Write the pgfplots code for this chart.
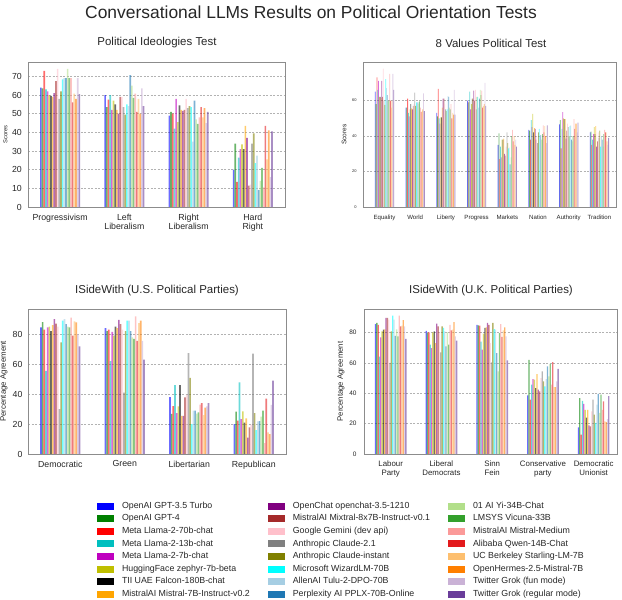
\documentclass[border=0pt]{standalone}
\usepackage{fontspec}
\setmainfont{Liberation Sans}
\usepackage{pgfplots}
\usepackage{pgfplotstable}
\pgfplotsset{compat=1.18}

\definecolor{c1}{HTML}{0000FF}
\definecolor{c2}{HTML}{008000}
\definecolor{c3}{HTML}{FF0000}
\definecolor{c4}{HTML}{00BFBF}
\definecolor{c5}{HTML}{BF00BF}
\definecolor{c6}{HTML}{BFBF00}
\definecolor{c7}{HTML}{000000}
\definecolor{c8}{HTML}{FFA500}
\definecolor{c9}{HTML}{800080}
\definecolor{c10}{HTML}{A52A2A}
\definecolor{c11}{HTML}{FFC0CB}
\definecolor{c12}{HTML}{808080}
\definecolor{c13}{HTML}{808000}
\definecolor{c14}{HTML}{00FFFF}
\definecolor{c15}{HTML}{A6CEE3}
\definecolor{c16}{HTML}{1F78B4}
\definecolor{c17}{HTML}{B2DF8A}
\definecolor{c18}{HTML}{33A02C}
\definecolor{c19}{HTML}{FB9A99}
\definecolor{c20}{HTML}{E31A1C}
\definecolor{c21}{HTML}{FDBF6F}
\definecolor{c22}{HTML}{FF7F00}
\definecolor{c23}{HTML}{CAB2D6}
\definecolor{c24}{HTML}{6A3D9A}

% Political Ideologies Test
\pgfplotstableread{
x s1 s2 s3 s4 s5 s6 s7 s8 s9 s10 s11 s12 s13 s14 s15 s16 s17 s18 s19 s20 s21 s22 s23 s24
0 64 63.5 73 63 62 60 59.5 59 61 67.5 74 58 62 68.4 69 69 74 69 69 56 60.7 58 69 60.5
1 60 53.5 57.5 60 52 57 55 52 50 59 59 53.5 49.5 55 54 70.7 65 58.5 60.7 51 58 50 63.5 54
2 49 51 50 42 58 45.5 54.5 52 51.5 52 58 53 54 53.5 35 57 47 44.5 48 53.5 48 53 45 51
3 20 34 13.5 26.5 31 33.5 31 43.5 37 11.5 12 34 39.5 23.5 27.5 9 14 21 10.5 43.5 25.5 41 16 40.5
}\tabA

% 8 Values Political Test
\pgfplotstableread{
x s1 s2 s3 s4 s5 s6 s7 s8 s9 s10 s11 s12 s13 s14 s15 s16 s17 s18 s19 s20 s21 s22 s23 s24
0 65 58 73 66 71 62 62 61.5 71 62 78 60 57.5 72 67 63 60 60 75 60 56 60 75 66
1 56 56 61 53 51 55 58 55.5 55 57 58 64.5 57 59 59 59 58 59.5 56 53.5 54 55 64 54
2 53 51 66.5 50 47 50.5 50.5 56 61 61 58 55 54 55 62.5 62 56 55 58 50 53 52 66 52
3 60 59 59.5 65 55 58 61 61 65.5 60 66 55 62 62 56 61 66 63 65.5 56 57 58 70 57
4 35 41.5 27 34 28 38 38 38.5 30 29 34 42 36 33 33.5 24 28 40 43.5 37 40 35 38 34
5 43.5 43 38 49 45 52.5 42 44.5 44 38 40 36 42 44 40 40.5 38 41 46 42 45.5 40 36 46
6 46.5 49 33 44 53.5 50 49.5 49.5 38.5 43 47 45 40 45.5 46 38 37 40 49.5 44 47 47 42 47.5
7 42 42.5 35 38 41 45 41 45.5 34 37 42 39 43 34 40 38 34 41 43.5 42 42 37 35 39
}\tabB

% ISideWith US
\pgfplotstableread{
x s1 s2 s3 s4 s5 s6 s7 s8 s9 s10 s11 s12 s13 s14 s15 s16 s17 s18 s19 s20 s21 s22 s23 s24
0 84.4 88 83 55.5 84.5 85 82 86 90 87 85 30 74.5 89 90 86.6 85 84.4 91 79 88.4 87.7 80 71.8
1 84 82 83 62 81.5 79 85 84 89.5 86.6 83 41 82 89 89 82 77.8 76.7 91.8 75.5 87.3 89 75.5 63
2 38 26.7 32 46 27.3 31.8 46 25.5 25.5 37.8 39.5 67.3 50.7 20 29 29 27 27.8 33 34 26 31 31.8 34
3 20 28.2 22.2 47.8 23.3 28.4 21 23.8 11 17.8 19.6 66.9 27.3 16 21.8 22 25 29 7.3 37 14.4 13.3 32.7 49
}\tabC

% ISideWith UK
\pgfplotstableread{
x s1 s2 s3 s4 s5 s6 s7 s8 s9 s10 s11 s12 s13 s14 s15 s16 s17 s18 s19 s20 s21 s22 s23 s24
0 85.5 86.2 85 64 76.8 80.7 81.8 82 89.5 89.5 88.4 60 80.7 91 88.4 77.8 82 77.4 91 84 84.4 88 84 75.7
1 81 79.6 80 72 69.7 80 80.7 73 85.7 84 80 66.9 84 83 80.7 70.8 80 72 85 81.4 81.8 86.8 77.4 74.6
2 85 84.6 84.4 74 68.6 79.2 83 83.3 86.2 85 73 60.3 86.2 82.2 81.8 66.4 54.4 79.6 85.5 77 81.4 83.3 77.4 61.6
3 38.6 62 35.7 45.6 49.3 49 43.4 52.6 42.3 41.2 50 54.4 47.8 44.5 49.3 57.7 51 59.2 45.6 60.5 44 44 47.8 56
4 17.5 36.8 12.7 35 33 29 24 29 18.9 18.2 28 35.7 25.9 20.4 32.5 39.5 27 39 29 34.6 21.5 21 23 38
}\tabD

\pgfplotsset{
  chart/.style={
    scale only axis, anchor=south west,
    ybar=0pt, bar width=0.026, ymin=0,
    axis line style={draw=black!45, line width=0.8pt},
    ymajorgrids, grid style={dash pattern=on 2bp off 1.5bp, black!30, line width=0.5pt},
    major tick length=0pt,
    enlarge x limits=false,
    /pgf/number format/assume math mode=true,
    tick label style={text=black!85},
    xticklabel style={align=center, inner sep=0pt},
    yticklabel style={inner sep=0pt},
    ylabel style={anchor=center, text=black!85},
  },
}

\begin{document}
\begin{tikzpicture}
\path[use as bounding box] (0,0) rectangle (622bp,600bp);

\node[font=\fontsize{17.5}{20}\selectfont, text=black!85] at (311bp,588bp) {Conversational LLMs Results on Political Orientation Tests};
\node[font=\fontsize{11.5}{13}\selectfont, text=black!85] at (157bp,557bp) {Political Ideologies Test};
\node[font=\fontsize{11.5}{13}\selectfont, text=black!85] at (491bp,557bp) {8 Values Political Test};
\node[font=\fontsize{11.5}{13}\selectfont, text=black!85] at (157bp,309bp) {ISideWith (U.S. Political Parties)};
\node[font=\fontsize{11.5}{13}\selectfont, text=black!85] at (491bp,309bp) {ISideWith (U.K. Political Parties)};

% Top left
\begin{axis}[chart, at={(28bp,393bp)}, width=257bp, height=145bp,
  xmin=-0.5, xmax=3.5, ymax=77.7,
  xtick={0,1,2,3}, xticklabels={Progressivism,{Left\\Liberalism},{Right\\Liberalism},{Hard\\Right}},
  ytick={0,10,...,70},
  xticklabel style={font=\fontsize{8.8}{9.5}\selectfont, yshift=-6.5bp},
  yticklabel style={font=\fontsize{8.8}{10}\selectfont, xshift=-6bp},
  ylabel={Scores}, ylabel style={font=\fontsize{5.8}{7}\selectfont, at={(axis description cs:-0.088,0.5)}},
]
\pgfplotsinvokeforeach{1,...,24}{
  \addplot[draw=none, fill=c#1, fill opacity=0.58] table[x=x, y=s#1] {\tabA};
}
\end{axis}

% Top right
\begin{axis}[chart, at={(363bp,393bp)}, width=253bp, height=145bp,
  xmin=-0.7, xmax=7.54, ymax=81.7,
  xtick={0,...,7}, xticklabels={Equality,World,Liberty,Progress,Markets,Nation,Authority,Tradition},
  ytick={0,20,40,60},
  xticklabel style={font=\fontsize{6.1}{7}\selectfont, yshift=-8bp},
  yticklabel style={font=\fontsize{4}{5}\selectfont, xshift=-6.3bp},
  ylabel={Scores}, ylabel style={font=\fontsize{6.6}{8}\selectfont, at={(axis description cs:-0.075,0.5)}},
]
\pgfplotsinvokeforeach{1,...,24}{
  \addplot[draw=none, fill=c#1, fill opacity=0.58] table[x=x, y=s#1] {\tabB};
}
\end{axis}

% Bottom left
\begin{axis}[chart, at={(28bp,146bp)}, width=258bp, height=145bp,
  xmin=-0.5, xmax=3.5, ymax=96.7,
  xtick={0,1,2,3}, xticklabels={Democratic,Green,Libertarian,Republican},
  ytick={0,20,...,80},
  xticklabel style={font=\fontsize{8.8}{9.5}\selectfont, yshift=-6.5bp},
  yticklabel style={font=\fontsize{8.8}{10}\selectfont, xshift=-5.3bp},
  ylabel={Percentage Agreement}, ylabel style={font=\fontsize{7.9}{9}\selectfont, at={(axis description cs:-0.093,0.5)}},
]
\pgfplotsinvokeforeach{1,...,24}{
  \addplot[draw=none, fill=c#1, fill opacity=0.58] table[x=x, y=s#1] {\tabC};
}
\end{axis}

% Bottom right
\begin{axis}[chart, at={(364bp,146bp)}, width=253bp, height=145bp,
  xmin=-0.526, xmax=4.46, ymax=95.4,
  xtick={0,...,4}, xticklabels={{Labour\\Party},{Liberal\\Democrats},{Sinn\\Fein},{Conservative\\party},{Democratic\\Unionist}},
  ytick={0,20,...,80},
  xticklabel style={font=\fontsize{7.9}{8.7}\selectfont, yshift=-7bp},
  yticklabel style={font=\fontsize{6.5}{8}\selectfont, xshift=-7.3bp},
  ylabel={Percentage Agreement}, ylabel style={font=\fontsize{7.8}{9}\selectfont, at={(axis description cs:-0.091,0.5)}},
]
\pgfplotsinvokeforeach{1,...,24}{
  \addplot[draw=none, fill=c#1, fill opacity=0.58] table[x=x, y=s#1] {\tabD};
}
\end{axis}

% Legend
\begin{axis}[hide axis, scale only axis, width=1bp, height=1bp, at={(97bp,98bp)}, anchor=south west,
  xmin=0, xmax=1, ymin=0, ymax=1,
  legend columns=3, legend cell align=left,
  legend image code/.code={\fill[#1] (0bp,-3.5bp) rectangle (17bp,3.5bp);},
  legend style={at={(0,0)}, anchor=north west, draw=none, fill=none, inner sep=0pt, outer sep=0pt,
    font=\fontsize{8.85}{10}\selectfont, text=black!85, row sep=4.6bp,
    nodes={inner sep=0pt, text height=6.2bp, text depth=1.8bp},
    /tikz/every odd column/.append style={column sep=8bp},
    /tikz/every even column/.append style={column sep=18bp}},
]
\addlegendimage{fill=c1, draw=none}\addlegendentry{OpenAI GPT-3.5 Turbo}
\addlegendimage{fill=c9, draw=none}\addlegendentry{OpenChat openchat-3.5-1210}
\addlegendimage{fill=c17, draw=none}\addlegendentry{01 AI Yi-34B-Chat}
\addlegendimage{fill=c2, draw=none}\addlegendentry{OpenAI GPT-4}
\addlegendimage{fill=c10, draw=none}\addlegendentry{MistralAI Mixtral-8x7B-Instruct-v0.1}
\addlegendimage{fill=c18, draw=none}\addlegendentry{LMSYS Vicuna-33B}
\addlegendimage{fill=c3, draw=none}\addlegendentry{Meta Llama-2-70b-chat}
\addlegendimage{fill=c11, draw=none}\addlegendentry{Google Gemini (dev api)}
\addlegendimage{fill=c19, draw=none}\addlegendentry{MistralAI Mistral-Medium}
\addlegendimage{fill=c4, draw=none}\addlegendentry{Meta Llama-2-13b-chat}
\addlegendimage{fill=c12, draw=none}\addlegendentry{Anthropic Claude-2.1}
\addlegendimage{fill=c20, draw=none}\addlegendentry{Alibaba Qwen-14B-Chat}
\addlegendimage{fill=c5, draw=none}\addlegendentry{Meta Llama-2-7b-chat}
\addlegendimage{fill=c13, draw=none}\addlegendentry{Anthropic Claude-instant}
\addlegendimage{fill=c21, draw=none}\addlegendentry{UC Berkeley Starling-LM-7B}
\addlegendimage{fill=c6, draw=none}\addlegendentry{HuggingFace zephyr-7b-beta}
\addlegendimage{fill=c14, draw=none}\addlegendentry{Microsoft WizardLM-70B}
\addlegendimage{fill=c22, draw=none}\addlegendentry{OpenHermes-2.5-Mistral-7B}
\addlegendimage{fill=c7, draw=none}\addlegendentry{TII UAE Falcon-180B-chat}
\addlegendimage{fill=c15, draw=none}\addlegendentry{AllenAI Tulu-2-DPO-70B}
\addlegendimage{fill=c23, draw=none}\addlegendentry{Twitter Grok (fun mode)}
\addlegendimage{fill=c8, draw=none}\addlegendentry{MistralAI Mistral-7B-Instruct-v0.2}
\addlegendimage{fill=c16, draw=none}\addlegendentry{Perplexity AI PPLX-70B-Online}
\addlegendimage{fill=c24, draw=none}\addlegendentry{Twitter Grok (regular mode)}
\end{axis}
\end{tikzpicture}
\end{document}
